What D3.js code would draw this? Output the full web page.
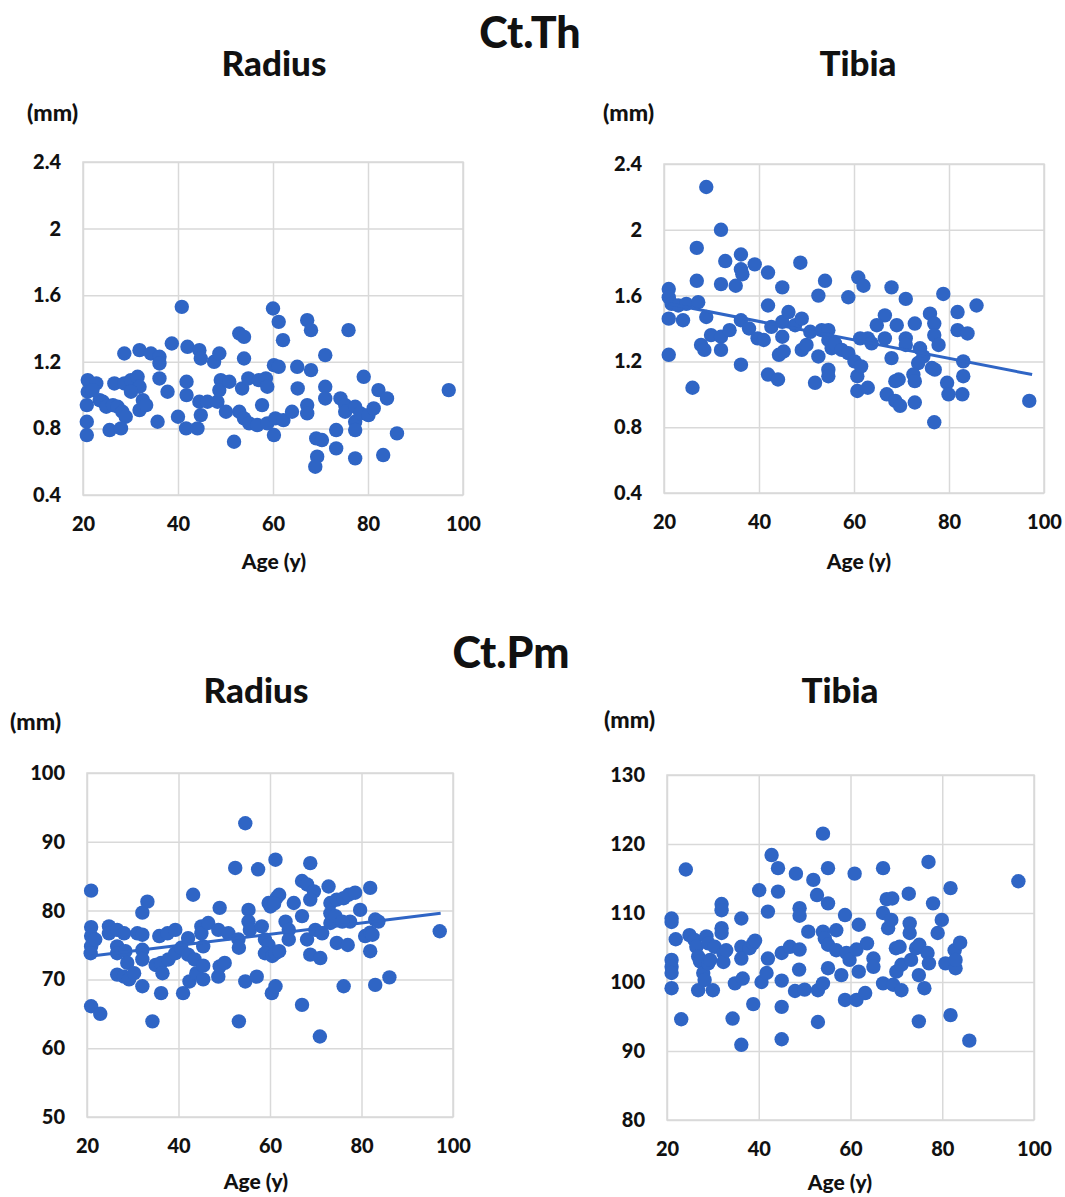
<!DOCTYPE html>
<html>
<head>
<meta charset="utf-8">
<script src="https://cdn.jsdelivr.net/npm/d3@7"></script>
<style>
  body { margin: 0; background: #fff; }
  svg { display: block; font-family: Lato, 'Open Sans', sans-serif; font-weight: 900; }
  .grid line { stroke: #d9d9d9; stroke-width: 1.5; }
  .grid .domain { display: none; }
  .grid text { font-family: Lato, 'Open Sans', sans-serif; font-size: 20px; font-weight: 900; fill: #111; }
  .label { fill: #111; }
</style>
</head>
<body>
<svg id="chart" width="1065" height="1197"></svg>
<script>
const ageTicks = [20, 40, 60, 80, 100];
const thTicks = [0.4, 0.8, 1.2, 1.6, 2, 2.4];
const radiusPmTicks = [50, 60, 70, 80, 90, 100];
const tibiaPmTicks = [80, 90, 100, 110, 120, 130];

// [age, Ct.Th mm] – radius
const radiusTh = [
  [20.8, 0.76], [20.8, 0.84], [20.8, 0.94], [21, 1.09], [22.8, 1.07], [21, 1.02], [22, 1.03],
  [23.5, 0.97], [24.2, 0.96], [24.9, 0.93], [26.3, 0.94], [27.3, 0.93], [28.3, 0.9], [29, 0.87],
  [25.6, 0.79], [28, 0.8], [26.6, 1.07], [28.7, 1.07], [28.7, 1.25], [31.9, 1.27], [30.1, 1.09],
  [31.5, 1.11], [31.9, 1.05], [30.1, 1.02], [32.6, 0.97], [31.9, 0.91], [33.3, 0.94], [34.3, 1.25],
  [36.1, 1.23], [36.1, 1.19], [36.1, 1.1], [37.8, 1.02], [35.7, 0.84], [38.7, 1.31], [40.8, 1.53],
  [42, 1.29], [41.8, 1.08], [41.8, 1.0], [40, 0.87], [41.7, 0.8], [44.1, 0.8], [44.5, 1.27],
  [44.8, 1.22], [44.8, 0.88], [44.5, 0.96], [46.2, 0.96], [47.6, 1.2], [48.7, 1.25], [48.3, 0.96],
  [49, 1.09], [48.7, 1.03], [50.1, 0.9], [50.8, 1.08], [51.8, 0.72], [52.9, 1.37], [53.9, 1.35],
  [53.9, 1.22], [52.9, 0.9], [53.9, 0.86], [53.5, 1.04], [54.8, 1.1], [55, 0.83], [56.7, 0.82],
  [57.7, 0.94], [57, 1.09], [58.5, 1.1], [58.8, 1.05], [58.8, 0.83], [60, 1.52], [60.2, 1.18],
  [60.2, 0.76], [60.5, 0.86], [61.2, 1.44], [62.1, 1.33], [61.2, 1.17], [62.2, 0.85], [64, 0.9],
  [65.2, 1.04], [65.1, 1.17], [67.2, 1.45], [68, 1.39], [68, 1.15], [67.2, 0.94], [67.2, 0.89],
  [69.1, 0.74], [70.3, 0.73], [73.3, 0.79], [73.3, 0.68], [69.3, 0.63], [68.9, 0.57], [71, 1.24],
  [71, 1.05], [71, 0.98], [74.2, 0.98], [75.2, 0.94], [75.2, 0.9], [75.9, 1.39], [77.3, 0.93],
  [77.3, 0.84], [77.3, 0.79], [77.3, 0.62], [78.4, 0.89], [79.1, 1.11], [80.1, 0.88], [81.2, 0.92],
  [82.2, 1.03], [84, 0.98], [83.2, 0.64], [86.1, 0.77], [97, 1.03]
];

// [age, Ct.Th mm] – tibia
const tibiaTh = [
  [28.9, 2.26], [32, 2.0], [26.9, 1.89], [32.9, 1.81], [36.2, 1.85], [36.2, 1.76], [36.5, 1.73],
  [39.1, 1.79], [41.9, 1.74], [48.7, 1.8], [26.9, 1.69], [32, 1.67], [35.1, 1.66], [44.9, 1.65],
  [41.9, 1.54], [53.9, 1.69], [52.5, 1.6], [58.8, 1.59], [21, 1.64], [21, 1.59], [21.6, 1.55],
  [23, 1.54], [24.7, 1.55], [27.2, 1.56], [21, 1.46], [24, 1.45], [28.9, 1.47], [21, 1.24],
  [26, 1.04], [27.8, 1.3], [28.5, 1.27], [29.9, 1.36], [32, 1.35], [32, 1.27], [33.8, 1.39],
  [36.2, 1.45], [37.9, 1.4], [36.2, 1.18], [39.7, 1.34], [41, 1.33], [41.9, 1.12], [44, 1.09],
  [42.6, 1.41], [44.9, 1.44], [44.9, 1.35], [44.2, 1.24], [45.2, 1.26], [46.2, 1.5], [47.6, 1.42],
  [49, 1.46], [49, 1.27], [50, 1.3], [50.8, 1.38], [51.8, 1.07], [52.5, 1.23], [53.2, 1.39],
  [54.6, 1.39], [54.6, 1.33], [55.3, 1.28], [54.6, 1.15], [54.6, 1.11], [56, 1.31], [57.4, 1.27],
  [58.8, 1.25], [60.1, 1.2], [60.7, 1.11], [60.7, 1.02], [61.5, 1.17], [62.9, 1.34], [62.9, 1.04],
  [60.9, 1.71], [62, 1.66], [67.9, 1.65], [70.9, 1.58], [78.8, 1.61], [85.8, 1.54], [66.5, 1.48],
  [64.8, 1.42], [69, 1.42], [72.8, 1.43], [76, 1.49], [76.9, 1.43], [76.9, 1.36], [81.8, 1.5],
  [81.8, 1.39], [83.9, 1.37], [61.3, 1.34], [63.7, 1.31], [66.5, 1.34], [70.9, 1.34], [70.9, 1.3],
  [77.8, 1.3], [67.9, 1.22], [73.9, 1.28], [74.6, 1.23], [73.5, 1.19], [76.4, 1.16], [77, 1.15],
  [83, 1.2], [72.5, 1.12], [69.4, 1.09], [68.7, 1.08], [72.8, 1.08], [79.6, 1.07], [83, 1.11],
  [66.9, 1.0], [68.7, 0.96], [69.7, 0.93], [72.8, 0.95], [79.9, 1.0], [82.8, 1.0], [76.9, 0.83],
  [96.9, 0.96]
];

// [age, Ct.Pm mm] – radius
const radiusPm = [
  [20.9, 82.9], [20.9, 77.6], [20.9, 76.3], [20.9, 74.8], [21.8, 75.8], [20.8, 73.8], [20.9, 66.1],
  [22.9, 65.0], [24.8, 77.7], [24.8, 76.7], [26.6, 77.2], [26.6, 74.8], [28.1, 76.7], [26.6, 73.8],
  [28.4, 74.1], [26.6, 70.7], [28.1, 70.4], [28.8, 72.4], [29.2, 70.0], [30.3, 70.9], [31, 76.7],
  [32.1, 76.5], [32.1, 79.7], [33.2, 81.3], [32.1, 74.3], [32.1, 72.9], [32.1, 69.0], [34.3, 63.9],
  [35.8, 76.3], [37.6, 76.7], [36.2, 68.0], [35, 72.1], [36.2, 72.4], [36.5, 70.9], [37.8, 72.9],
  [39.3, 73.8], [39.3, 77.2], [41, 68.0], [40.6, 74.6], [42.1, 76], [42.1, 73.6], [42.4, 69.7],
  [43.2, 82.3], [43.5, 72.9], [43.9, 70.9], [45, 77.7], [45, 76.7], [45.4, 74.8], [45.4, 72],
  [45.4, 70.0], [46.5, 78.2], [48.7, 77.2], [48.7, 70.4], [49, 80.4], [49, 71.9], [50.1, 72.4],
  [50.9, 76.7], [52.4, 86.2], [53.1, 75.8], [53.2, 74.6], [53.2, 63.9], [54.6, 92.7], [54.6, 69.7],
  [55.3, 80.1], [55.3, 78.4], [55.6, 77.2], [57.4, 86], [57.1, 70.4], [58.2, 77.7], [58.9, 75.8],
  [59.7, 81.1], [59.7, 75], [58.9, 73.8], [60.4, 68], [61.2, 69], [61.2, 87.4], [61.5, 81.9],
  [62, 82.3], [60.1, 80.6], [60.9, 81], [60.5, 73.4], [61.2, 73.8], [62, 74.1], [63.4, 78.4],
  [64.1, 77.2], [64.1, 75.8], [65.2, 81.1], [67, 79.2], [67, 84.3], [68.1, 83.8], [68.8, 86.9],
  [69.6, 82.8], [68.8, 81.6], [68.1, 75.8], [69.9, 77.2], [68.8, 73.6], [71, 73.1], [67, 66.3],
  [70.9, 61.7], [71.4, 76.7], [72.8, 83.5], [73.2, 81.1], [73.2, 79.6], [73.2, 78.2], [74.3, 79.2],
  [74.6, 75.3], [77, 75.0], [74.6, 81.6], [76.1, 81.8], [77.2, 82.3], [77.5, 78.4], [75.8, 78.4],
  [78.6, 82.6], [79.7, 80.1], [76.1, 69], [81.9, 83.3], [80.8, 76.3], [81.9, 76.8], [83, 78.7],
  [83.7, 78.4], [82.4, 76.5], [81.9, 74.1], [83, 69.2], [86.1, 70.3], [97.1, 77.0]
];

// [age, Ct.Pm mm] – tibia
const tibiaPm = [
  [21, 109.2], [21, 108.7], [21.9, 106.2], [21, 103.2], [21, 102.2], [21, 101.3], [21, 99.1],
  [23.1, 94.6], [24.1, 116.3], [24.9, 106.8], [26, 106.1], [26.4, 105.1], [26.8, 103.7], [27.2, 103],
  [26.8, 98.8], [27.9, 101.3], [28.2, 100.3], [28.6, 106.6], [29, 105.6], [29, 102.7], [29.4, 103.2],
  [30, 98.8], [30.4, 105.1], [31.9, 111.3], [31.9, 110.4], [31.9, 107.8], [31.9, 107.1], [32.3, 104.2],
  [32.3, 102.9], [32.9, 104.6], [34.3, 94.7], [34.8, 99.8], [36.2, 90.9], [36.2, 109.2], [36.2, 105.1],
  [36.2, 103.4], [36.5, 100.5], [38, 104.9], [38.8, 105.6], [39.2, 106], [38.8, 96.8], [40.1, 113.3],
  [40.6, 100.0], [41.7, 101.3], [42, 110.2], [42, 103.4], [42.8, 118.4], [44.2, 116.5], [44.2, 113.1],
  [45, 104.2], [45, 100.2], [45, 96.4], [45, 91.7], [46.8, 105.1], [48.1, 115.7], [47.9, 98.7],
  [48.9, 110.7], [48.9, 109.6], [48.9, 104.7], [48.8, 101.8], [50, 98.9], [50.8, 107.3], [51.9, 114.8],
  [52.7, 112.6], [52.9, 94.2], [52.9, 98.8], [54, 121.5], [54, 107.3], [54, 99.8], [54.4, 106.3],
  [55.1, 116.5], [55.1, 111.4], [55.1, 105.4], [55.1, 102], [56.9, 107.5], [56.9, 104.6], [58, 101],
  [58.8, 109.7], [58.8, 97.4], [59.1, 104.2], [59.8, 103.2], [61.3, 97.4], [60.9, 115.7], [61.3, 104.7],
  [61.8, 108.3], [61.8, 101.5], [63.2, 98.4], [63.6, 105.6], [65, 103.4], [65, 102.2], [67.1, 116.5],
  [67.1, 110], [67.9, 112], [69.1, 112.1], [68.2, 107.8], [68.9, 109], [67.1, 99.8], [69.3, 99.6],
  [71.1, 98.8], [69.9, 104.9], [70.7, 105.1], [70, 101.5], [71.1, 102.5], [72.7, 112.8], [72.9, 108.5],
  [72.9, 107.1], [73.2, 103.2], [74.3, 104.9], [75, 105.4], [74.9, 101], [76.1, 99.1], [74.9, 94.3],
  [77, 117.4], [76.8, 104.2], [77.1, 102.7], [78, 111.4], [79, 107.1], [79.9, 109], [80.7, 102.7],
  [81.8, 113.6], [81.8, 95.2], [82.7, 104.6], [83.9, 105.7], [82.9, 102], [82.9, 103.2], [85.9, 91.5],
  [96.6, 114.6]
];

// linear trend endpoints
const tibiaThTrend = [[21, 1.55], [97.5, 1.12]];
const radiusPmTrend = [[21, 73.4], [97.3, 79.6]];

const dotColor = '#2f65c5';

const panels = [
  { data: radiusTh, trend: null, yTicks: thTicks,
    left: 83, top: 162, width: 380, height: 333,
    title: 'Radius', titleX: 274, titleY: 76, unitX: 27, unitY: 121, labelX: 274, labelY: 569 },
  { data: tibiaTh, trend: tibiaThTrend, yTicks: thTicks,
    left: 664, top: 164, width: 380, height: 329,
    title: 'Tibia', titleX: 858, titleY: 76, unitX: 603, unitY: 121, labelX: 859, labelY: 569 },
  { data: radiusPm, trend: radiusPmTrend, yTicks: radiusPmTicks,
    left: 87, top: 773, width: 366, height: 344,
    title: 'Radius', titleX: 256, titleY: 703, unitX: 10, unitY: 730, labelX: 256, labelY: 1189 },
  { data: tibiaPm, trend: null, yTicks: tibiaPmTicks,
    left: 667, top: 775, width: 367, height: 345,
    title: 'Tibia', titleX: 840, titleY: 703, unitX: 604, unitY: 728, labelX: 840, labelY: 1190 }
];

const svg = d3.select('#chart');

svg.append('rect').attr('width', 1065).attr('height', 1197).attr('fill', '#fff');

svg.append('text').attr('class', 'label')
  .attr('x', 530).attr('y', 48).attr('text-anchor', 'middle')
  .attr('font-size', 43).text('Ct.Th');

svg.append('text').attr('class', 'label')
  .attr('x', 511).attr('y', 668).attr('text-anchor', 'middle')
  .attr('font-size', 43).text('Ct.Pm');

function drawPanel(p) {
  const x = d3.scaleLinear().domain([20, 100]).range([p.left, p.left + p.width]);
  const y = d3.scaleLinear().domain(d3.extent(p.yTicks)).range([p.top + p.height, p.top]);

  svg.append('g')
    .attr('class', 'grid')
    .attr('transform', `translate(0,${p.top + p.height})`)
    .call(d3.axisBottom(x).tickValues(ageTicks).tickSize(-p.height).tickPadding(22));

  svg.append('g')
    .attr('class', 'grid')
    .attr('transform', `translate(${p.left},0)`)
    .call(d3.axisLeft(y).tickValues(p.yTicks).tickSize(-p.width).tickPadding(22)
      .tickFormat((d) => String(d)));

  svg.append('rect')
    .attr('x', p.left).attr('y', p.top)
    .attr('width', p.width).attr('height', p.height)
    .attr('fill', 'none').attr('stroke', '#d9d9d9').attr('stroke-width', 1.5);

  svg.append('g')
    .selectAll('circle')
    .data(p.data)
    .join('circle')
    .attr('cx', (d) => x(d[0]))
    .attr('cy', (d) => y(d[1]))
    .attr('r', 7.2)
    .attr('fill', dotColor);

  if (p.trend) {
    svg.append('path')
      .datum(p.trend)
      .attr('d', d3.line().x((d) => x(d[0])).y((d) => y(d[1])))
      .attr('fill', 'none')
      .attr('stroke', dotColor)
      .attr('stroke-width', 3);
  }

  svg.append('text').attr('class', 'label')
    .attr('x', p.titleX).attr('y', p.titleY).attr('text-anchor', 'middle')
    .attr('font-size', 35).text(p.title);

  svg.append('text').attr('class', 'label')
    .attr('x', p.unitX).attr('y', p.unitY)
    .attr('font-size', 23).text('(mm)');

  svg.append('text').attr('class', 'label')
    .attr('x', p.labelX).attr('y', p.labelY).attr('text-anchor', 'middle')
    .attr('font-size', 21).text('Age (y)');
}

panels.forEach(drawPanel);
</script>
</body>
</html>
